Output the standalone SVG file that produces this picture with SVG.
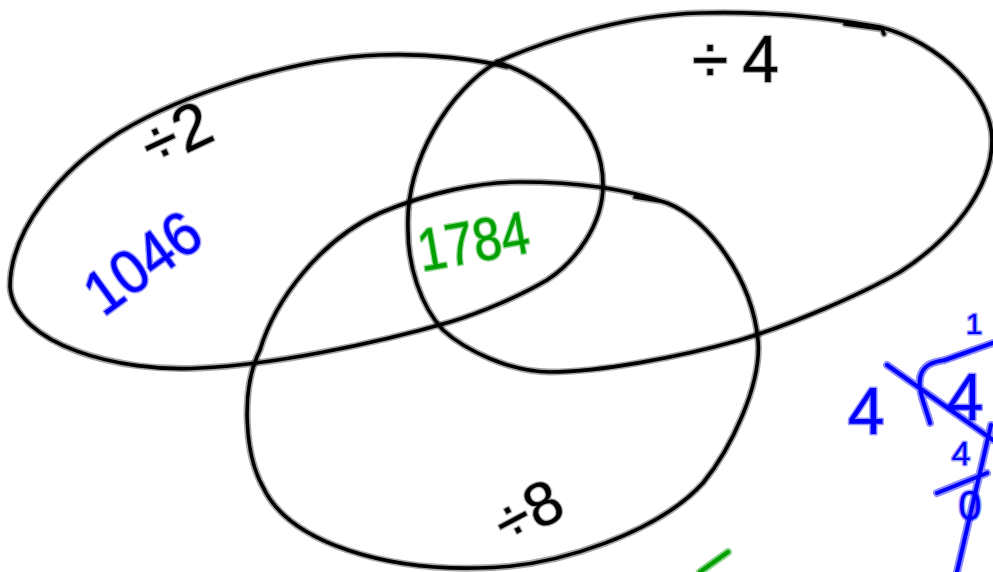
<svg xmlns="http://www.w3.org/2000/svg" xmlns:xlink="http://www.w3.org/1999/xlink" width="993" height="572" viewBox="0 0 993 572">
<style>
.halo{fill:none;stroke:#000;stroke-opacity:.35;stroke-width:7;stroke-linecap:round;stroke-linejoin:round}
.pen{fill:none;stroke:#000;stroke-width:3.6;stroke-linecap:round;stroke-linejoin:round}
.bhalo{fill:none;stroke:#0000ff;stroke-opacity:.45;stroke-width:8;stroke-linecap:round}
.bpen{fill:none;stroke:#0000ff;stroke-width:4;stroke-linecap:round;stroke-linejoin:round}
.ghalo{fill:none;stroke:#00a000;stroke-opacity:.45;stroke-width:8;stroke-linecap:round}
.gpen{fill:none;stroke:#00a000;stroke-width:4;stroke-linecap:round}
text{font-family:"Liberation Sans",Arial,sans-serif;paint-order:stroke;stroke-linejoin:round}
.tk{fill:#000;stroke:#000;stroke-opacity:.3;stroke-width:2.5}
.tb{fill:#0000ff;stroke:#0000ff;stroke-opacity:.4;stroke-width:3}
.tg{fill:#00a000;stroke:#00a000;stroke-opacity:.4;stroke-width:3}
</style>
<defs>
<path id="p2" d="M497,62 C545,78 603,120 603,185 C603,225 575,262 547,280 C520,296 480,313 450,322 C370,345 270,365 200,368 C120,373 15,345 10,287 C10,230 60,170 120,132 C180,96 290,58 380,55 C430,53 480,60 507,67"/>
<path id="p4" d="M408,230 C405,160 450,90 497,62 C540,43 620,15 700,13 C770,11 830,18 880,27 C940,42 992,95 992,140 C992,190 950,240 900,272 C860,295 790,325 740,340 C680,357 600,372 550,372 C510,372 465,350 443,330 C420,305 408,265 408,230 Z M845,24 L882,29 L884,34"/>
<path id="p8" d="M520,182 C580,182 630,190 667,203 C710,220 752,280 758,340 C762,385 730,450 703,483 C660,530 560,568 477,568 C390,570 290,545 263,487 C245,455 240,390 260,350 C275,300 320,240 380,213 C430,192 480,182 520,182 Z M635,197 L660,201"/>
</defs>
<rect width="993" height="572" fill="#fff"/>
<g id="set-div2">
<use xlink:href="#p2" class="halo"/>
<use xlink:href="#p2" class="pen"/>
<text class="tk" font-size="64" text-anchor="middle" transform="translate(176,134) rotate(-25)" y="22">÷2</text>
</g>
<g id="set-div4">
<use xlink:href="#p4" class="halo"/>
<use xlink:href="#p4" class="pen"/>
<text class="tk" font-size="66" x="692" y="82" letter-spacing="14">÷4</text>
</g>
<g id="set-div8">
<use xlink:href="#p8" class="halo"/>
<use xlink:href="#p8" class="pen"/>
<text class="tk" font-size="62" text-anchor="middle" transform="translate(528,512) rotate(-28)" y="21">÷8</text>
</g>
<g id="count-only-div2">
<text class="tb" font-size="62" text-anchor="middle" textLength="128" lengthAdjust="spacingAndGlyphs" transform="translate(142,262) rotate(-36)" y="22">1046</text>
</g>
<g id="count-div2-div4-div8">
<text class="tg" font-size="60" text-anchor="middle" textLength="112" lengthAdjust="spacingAndGlyphs" transform="translate(473,240) rotate(-10)" y="22">1784</text>
</g>
<g id="long-division">
<path class="bhalo" d="M930,423 C925,405 915,385 922,372 C927,363 935,362 945,360 L993,343 M887,365 L993,440 M937,493 L987,473 M991,425 L957,572"/>
<path class="bpen" d="M930,423 C925,405 915,385 922,372 C927,363 935,362 945,360 L993,343 M887,365 L993,440 M937,493 L987,473 M991,425 L957,572"/>
<text class="tb" font-size="30" text-anchor="middle" x="974" y="334">1</text>
<text class="tb" font-size="66" text-anchor="middle" x="866" y="434">4</text>
<text class="tb" font-size="66" text-anchor="middle" x="965" y="420">4</text>
<text class="tb" font-size="34" text-anchor="middle" x="961" y="465">4</text>
<text class="tb" font-size="42" text-anchor="middle" x="970" y="520">0</text>
</g>
<g id="green-mark">
<path class="ghalo" d="M728,552 L700,572"/>
<path class="gpen" d="M728,552 L700,572"/>
</g>
</svg>
